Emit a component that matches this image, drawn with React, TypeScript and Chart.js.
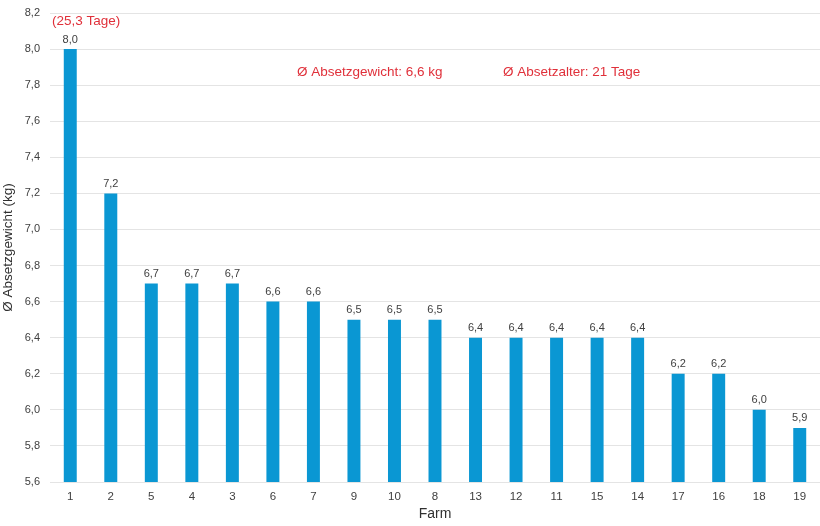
import { useEffect, useRef } from 'react'
import { Chart, registerables } from 'chart.js'

Chart.register(...registerables)

const farms = ['1', '2', '5', '4', '3', '6', '7', '9', '10', '8', '13', '12', '11', '15', '14', '17', '16', '18', '19']
const weights = [8.0, 7.2, 6.7, 6.7, 6.7, 6.6, 6.6, 6.5, 6.5, 6.5, 6.4, 6.4, 6.4, 6.4, 6.4, 6.2, 6.2, 6.0, 5.9]

const yMin = 5.6
const yMax = 8.2
const yStep = 0.2

const notes = [
  { text: '(25,3 Tage)', x: 52, y: 25 },
  { text: 'Ø Absetzgewicht: 6,6 kg', x: 297, y: 76 },
  { text: 'Ø Absetzalter: 21 Tage', x: 503, y: 76 }
]

const FONT = '"Liberation Sans", Arial, sans-serif'
const comma = (v: number) => v.toFixed(1).replace('.', ',')

// value labels above bars + red notes
const labelPlugin = {
  id: 'labels',
  afterDatasetsDraw(chart: any) {
    const ctx = chart.ctx
    const meta = chart.getDatasetMeta(0)
    ctx.save()
    ctx.font = `11px ${FONT}`
    ctx.fillStyle = '#404040'
    ctx.textAlign = 'center'
    ctx.textBaseline = 'bottom'
    meta.data.forEach((bar: any, i: number) => {
      ctx.fillText(comma(weights[i]), bar.x, bar.y - 4)
    })
    ctx.font = `13.5px ${FONT}`
    ctx.fillStyle = '#e0303a'
    ctx.textAlign = 'left'
    ctx.textBaseline = 'alphabetic'
    notes.forEach((n) => ctx.fillText(n.text, n.x, n.y))
    ctx.restore()
  }
}

const BarChart = () => {
  const chartRef = useRef<HTMLCanvasElement>(null)
  const chartInstance = useRef<Chart | null>(null)

  useEffect(() => {
    if (!chartRef.current) return
    if (chartInstance.current) chartInstance.current.destroy()

    chartInstance.current = new Chart(chartRef.current, {
      type: 'bar',
      data: {
        labels: farms,
        datasets: [
          {
            data: weights,
            backgroundColor: '#0a97d3',
            barPercentage: 0.32,
            categoryPercentage: 1
          }
        ]
      },
      options: {
        animation: false,
        responsive: false,
        layout: { padding: { top: 13, right: 0, left: 0, bottom: 0 } },
        plugins: {
          legend: { display: false },
          tooltip: { enabled: false }
        },
        scales: {
          x: {
            grid: { display: false, drawTicks: false },
            border: { display: false },
            ticks: { color: '#404040', font: { family: FONT, size: 11.5 }, padding: 8 },
            title: { display: true, text: 'Farm', color: '#303030', font: { family: FONT, size: 14 }, padding: { top: 0, bottom: 3 } },
            afterFit: (s: any) => {
              s.height = 44
              s.paddingLeft = 0
              s.paddingRight = 0
            }
          },
          y: {
            min: yMin,
            max: yMax,
            ticks: {
              stepSize: yStep,
              color: '#404040',
              font: { family: FONT, size: 11 },
              padding: 10,
              callback: (v: any) => comma(Number(v))
            },
            grid: { color: '#e4e4e4', drawTicks: false },
            border: { display: false },
            title: { display: true, text: 'Ø Absetzgewicht (kg)', color: '#303030', font: { family: FONT, size: 13.5 }, padding: { top: 0, bottom: 4 } },
            afterFit: (s: any) => {
              s.width = 50
              s.paddingTop = 0
              s.paddingBottom = 0
            }
          }
        }
      },
      plugins: [labelPlugin]
    })

    return () => {
      if (chartInstance.current) {
        chartInstance.current.destroy()
        chartInstance.current = null
      }
    }
  }, [])

  return <canvas ref={chartRef} width={820} height={526} />
}

export default function App() {
  return (
    <div style={{ position: 'absolute', left: 0, top: 0, width: 820, height: 526, background: '#fff' }}>
      <BarChart />
    </div>
  )
}
